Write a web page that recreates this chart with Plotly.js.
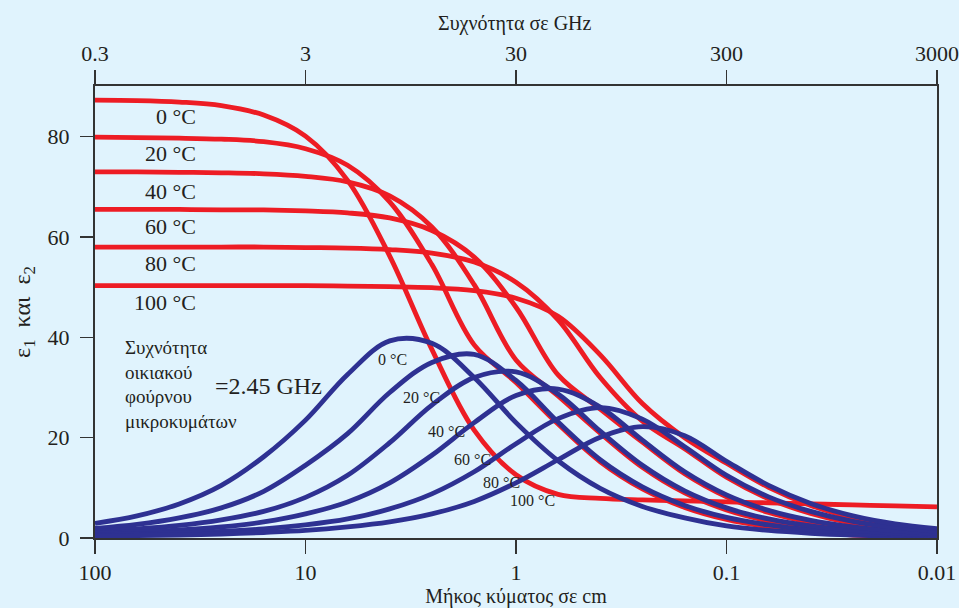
<!DOCTYPE html>
<html>
<head>
<meta charset="utf-8">
<script src="https://cdn.plot.ly/plotly-3.0.1.min.js"></script>
<style>html,body{margin:0;padding:0;background:#e0f3fd;}#chart{width:959px;height:608px;}</style>
</head>
<body>
<div id="chart"></div>
<script>
// Wavelength samples (cm)
const wavelength = [100, 63.1, 39.8, 25.1, 15.8, 10, 6.31, 3.98, 2.51, 1.58, 1, 0.631, 0.398, 0.251, 0.158, 0.1, 0.0631, 0.0398, 0.0251, 0.0158, 0.01];
const temperatures = ['0 °C', '20 °C', '40 °C', '60 °C', '80 °C', '100 °C'];

// ε1 (real part) per temperature
const eps1_0   = [87.3, 87.2, 86.9, 86.2, 84.3, 80.1, 71.3, 56.2, 37.6, 21.5, 12.6, 8.7, 7.9, 7.6, 7.4, 7.2, 7.0, 6.8, 6.6, 6.4, 6.2];
const eps1_20  = [79.9, 79.8, 79.7, 79.5, 79.0, 77.6, 74.3, 67.0, 54.5, 38.5, 31.0, 22.7, 15.2, 9.8, 6.1, 3.7, 2.2, 1.2, 0.6, 0.3, 0.1];
const eps1_40  = [73.0, 73.0, 72.9, 72.8, 72.6, 72.1, 71.0, 68.2, 62.0, 50.5, 35.5, 28.3, 20.9, 14.1, 9.0, 5.6, 3.4, 2.0, 1.1, 0.6, 0.2];
const eps1_60  = [65.5, 65.5, 65.5, 65.4, 65.4, 65.2, 64.8, 63.8, 61.3, 56.0, 46.0, 32.5, 25.7, 19.1, 12.8, 8.2, 5.1, 3.1, 1.8, 1.0, 0.5];
const eps1_80  = [58.0, 58.0, 58.0, 58.0, 58.0, 57.9, 57.8, 57.5, 56.8, 55.0, 51.0, 43.5, 32.0, 23.3, 17.8, 12.1, 7.8, 4.9, 2.9, 1.7, 0.9];
const eps1_100 = [50.3, 50.3, 50.3, 50.3, 50.3, 50.3, 50.2, 50.1, 49.9, 49.3, 47.8, 44.2, 36.5, 26.8, 20.0, 14.9, 10.1, 6.5, 4.0, 2.4, 1.45];

// ε2 (imaginary part) per temperature
const eps2_0   = [2.9, 4.4, 6.8, 10.5, 16.2, 23.5, 32.6, 39.3, 38.8, 32.0, 23.0, 15.4, 9.9, 6.3, 4.0, 2.4, 1.5, 0.95, 0.6, 0.38, 0.24];
const eps2_20  = [1.9, 2.7, 4.0, 6.0, 9.3, 14.5, 20.8, 29.0, 35.0, 36.6, 31.4, 23.1, 15.6, 10.2, 6.5, 4.1, 2.6, 1.6, 1.0, 0.65, 0.41];
const eps2_40  = [1.3, 1.8, 2.5, 3.6, 5.3, 8.1, 12.5, 19.0, 26.5, 32.0, 33.1, 28.7, 21.3, 14.5, 9.4, 6.0, 3.8, 2.4, 1.5, 0.96, 0.6];
const eps2_60  = [0.9, 1.2, 1.6, 2.2, 3.2, 4.8, 7.2, 11.0, 16.5, 23.0, 28.4, 29.7, 26.1, 19.5, 13.2, 8.6, 5.5, 3.5, 2.2, 1.4, 0.88];
const eps2_80  = [0.6, 0.8, 1.0, 1.3, 1.8, 2.6, 3.8, 5.8, 8.8, 13.2, 18.8, 23.8, 26.0, 23.7, 18.2, 12.5, 8.2, 5.3, 3.3, 2.1, 1.34];
const eps2_100 = [0.4, 0.5, 0.6, 0.8, 1.1, 1.5, 2.2, 3.2, 4.8, 7.3, 11.0, 15.6, 20.1, 22.2, 20.4, 15.3, 10.5, 6.9, 4.4, 2.8, 1.85];

// Axis ticks
const lambdaTicks = [100, 10, 1, 0.1, 0.01];
const lambdaTickText = ['100', '10', '1', '0.1', '0.01'];
const freqTicks = [0.3, 3, 30, 300, 3000];
const freqTickText = ['0.3', '3', '30', '300', '3000'];
const epsTicks = [0, 20, 40, 60, 80];

const eps1Series = [eps1_0, eps1_20, eps1_40, eps1_60, eps1_80, eps1_100];
const eps2Series = [eps2_0, eps2_20, eps2_40, eps2_60, eps2_80, eps2_100];

const RED = '#ed1c24';
const BLUE = '#2e3192';
const TXT = '#231f20';
const SERIF = "'Liberation Serif', 'Times New Roman', serif";

const traces = [];
eps1Series.forEach((ys, i) => traces.push({
  x: wavelength, y: ys, type: 'scatter', mode: 'lines', name: 'ε1 ' + temperatures[i],
  line: {color: RED, width: 4.8, shape: 'spline', smoothing: 1}, hoverinfo: 'skip', showlegend: false
}));
eps2Series.forEach((ys, i) => traces.push({
  x: wavelength, y: ys, type: 'scatter', mode: 'lines', name: 'ε2 ' + temperatures[i],
  line: {color: BLUE, width: 4.8, shape: 'spline', smoothing: 1}, hoverinfo: 'skip', showlegend: false
}));
// carrier for the top (frequency) axis
traces.push({x: [freqTicks[0], freqTicks[freqTicks.length-1]], y: [null, null], xaxis: 'x2', yaxis: 'y',
  type: 'scatter', mode: 'lines', hoverinfo: 'skip', showlegend: false});

const W = 959, H = 608, L = 95, R = 22, T = 86, B = 70;
const px = x => (x - L) / (W - L - R);
const py = y => (H - B - y) / (H - T - B);

const annotations = [];
const redLabelY = [116, 153.5, 191, 226.5, 263, 302];
temperatures.forEach((t, i) => annotations.push({
  text: t, xref: 'paper', yref: 'paper', x: px(198), y: py(redLabelY[i]),
  xanchor: 'right', yanchor: 'middle', showarrow: false,
  font: {family: SERIF, size: 22, color: TXT}
}));
const blueLabelPos = [[392, 359], [421, 397], [446, 431], [472, 459], [501, 482], [532, 500]];
temperatures.forEach((t, i) => annotations.push({
  text: t, xref: 'paper', yref: 'paper', x: px(blueLabelPos[i][0]), y: py(blueLabelPos[i][1]),
  xanchor: 'center', yanchor: 'middle', showarrow: false,
  font: {family: SERIF, size: 16, color: TXT}
}));
annotations.push({
  text: 'Συχνότητα<br>οικιακού<br>φούρνου<br>μικροκυμάτων', xref: 'paper', yref: 'paper',
  x: px(123), y: py(335), xanchor: 'left', yanchor: 'top', align: 'left', showarrow: false,
  font: {family: SERIF, size: 19, color: TXT}
});
annotations.push({
  text: '=2.45 GHz', xref: 'paper', yref: 'paper', x: px(268), y: py(386),
  xanchor: 'center', yanchor: 'middle', showarrow: false,
  font: {family: SERIF, size: 24, color: TXT}
});
// top axis title
annotations.push({
  text: 'Συχνότητα σε GHz', xref: 'paper', yref: 'paper', x: px(515), y: py(23),
  xanchor: 'center', yanchor: 'middle', showarrow: false,
  font: {family: SERIF, size: 20, color: TXT}
});

const tickFont = {family: SERIF, size: 22, color: TXT};
const layout = {
  width: W, height: H,
  margin: {l: L, r: R, t: T, b: B, pad: 0},
  paper_bgcolor: '#e0f3fd', plot_bgcolor: '#e0f3fd',
  showlegend: false,
  font: {family: SERIF, color: TXT},
  xaxis: {
    type: 'log', range: [Math.log10(100), Math.log10(0.01)],
    tickvals: lambdaTicks, ticktext: lambdaTickText,
    ticks: 'outside', ticklen: 14, tickwidth: 1.5, tickcolor: '#333',
    showline: true, linecolor: '#333', linewidth: 2, mirror: false,
    showgrid: false, zeroline: false, tickfont: tickFont,
    title: {text: 'Μήκος κύματος σε cm', font: {family: SERIF, size: 20, color: TXT}, standoff: 9}
  },
  xaxis2: {
    type: 'log', overlaying: 'x', side: 'top', anchor: 'y',
    range: [Math.log10(0.3), Math.log10(3000)],
    tickvals: freqTicks, ticktext: freqTickText,
    ticks: 'outside', ticklen: 14, tickwidth: 1.5, tickcolor: '#333',
    showline: true, linecolor: '#333', linewidth: 2,
    showgrid: false, zeroline: false, tickfont: tickFont, ticklabelstandoff: 0
  },
  yaxis: {
    range: [0, 90.1], tickvals: epsTicks,
    ticks: 'outside', ticklen: 13, tickwidth: 1.5, tickcolor: '#333',
    showline: true, linecolor: '#333', linewidth: 2, mirror: true,
    showgrid: false, zeroline: false, tickfont: tickFont, ticklabelstandoff: 6,
    title: {text: 'ε<sub>1</sub>  και  ε<sub>2</sub>', font: {family: SERIF, size: 24, color: TXT}, standoff: 10}
  },
  annotations: annotations
};

Plotly.newPlot('chart', traces, layout, {displayModeBar: false, staticPlot: true});
</script>
</body>
</html>
